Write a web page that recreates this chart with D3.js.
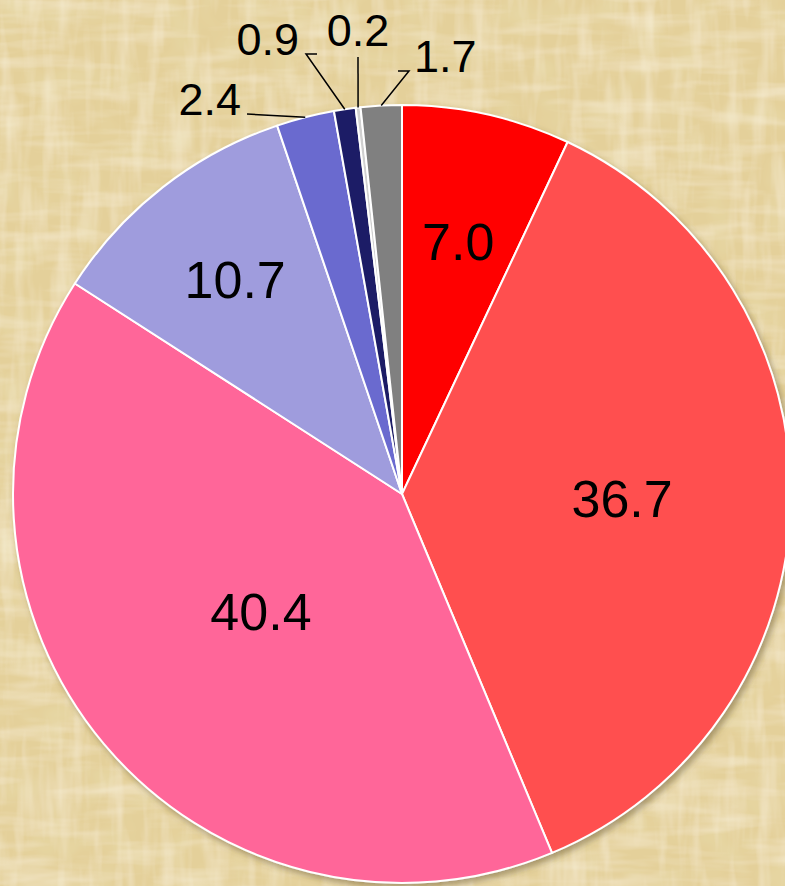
<!DOCTYPE html>
<html>
<head>
<meta charset="utf-8">
<script src="https://cdn.jsdelivr.net/npm/d3@7"></script>
<style>
  html, body { margin: 0; padding: 0; background: #E4D09A; }
  svg { display: block; }
  text { font-family: "Liberation Sans", Arial, sans-serif; fill: #000; }
</style>
</head>
<body>
<svg id="chart" width="785" height="886"></svg>
<script>
// ---- data ----
const categories = ["A", "B", "C", "D", "E", "F", "G", "H"];
const values = [7.0, 36.7, 40.4, 10.7, 2.4, 0.9, 0.2, 1.7];
const labels = ["7.0", "36.7", "40.4", "10.7", "2.4", "0.9", "0.2", "1.7"];
const colors = ["#FF0000", "#FF5050", "#FF6699", "#9F9CDD", "#6B6BCF", "#1F1F66", "#D0D0D0", "#808080"];

// ---- layout ----
const W = 785, H = 886;
const cx = 402, cy = 494, R = 389;
// inside label radius (fraction of R) for large slices
const insideR = [0.663, 0.566, 0.473, 0.697, null, null, null, null];
// outside labels: text anchor, text position, elbow point
const outside = {
  4: { anchor: "end",   tx: 241, ty: 115, elbow: [247, 114] },
  5: { anchor: "end",   tx: 299, ty: 55,  elbow: [306, 54], start: [317, 54] },
  6: { anchor: "middle",tx: 358, ty: 46,  elbow: [358, 57] },
  7: { anchor: "start", tx: 414, ty: 72,  elbow: [409, 71], start: [398, 71] }
};

const svg = d3.select("#chart");
const defs = svg.append("defs");

// parchment texture
const f = defs.append("filter").attr("id", "paper").attr("x", 0).attr("y", 0).attr("width", 1).attr("height", 1);
f.append("feTurbulence").attr("type", "fractalNoise").attr("baseFrequency", "0.07 0.012").attr("numOctaves", 3).attr("seed", 3).attr("result", "v");
f.append("feColorMatrix").attr("in", "v").attr("type", "matrix")
  .attr("values", "0 0 0 0 0.96  0 0 0 0 0.89  0 0 0 0 0.72  1.0 0 0 0 -0.45").attr("result", "vc");
f.append("feTurbulence").attr("type", "fractalNoise").attr("baseFrequency", "0.012 0.07").attr("numOctaves", 3).attr("seed", 8).attr("result", "h");
f.append("feColorMatrix").attr("in", "h").attr("type", "matrix")
  .attr("values", "0 0 0 0 0.96  0 0 0 0 0.89  0 0 0 0 0.72  1.0 0 0 0 -0.45").attr("result", "hc");
f.append("feTurbulence").attr("type", "fractalNoise").attr("baseFrequency", "0.03 0.03").attr("numOctaves", 2).attr("seed", 5).attr("result", "b");
f.append("feColorMatrix").attr("in", "b").attr("type", "matrix")
  .attr("values", "0 0 0 0 0.82  0 0 0 0 0.74  0 0 0 0 0.44  1.0 0 0 0 -0.45").attr("result", "bc");
f.append("feMerge").selectAll("feMergeNode").data(["SourceGraphic", "bc", "hc", "vc"]).join("feMergeNode").attr("in", d => d);

svg.append("rect").attr("width", W).attr("height", H).attr("fill", "#E4D09A").attr("filter", "url(#paper)");

// shadow
const sh = defs.append("filter").attr("id", "shadow").attr("x", "-10%").attr("y", "-10%").attr("width", "120%").attr("height", "120%");
sh.append("feDropShadow").attr("dx", 3).attr("dy", 4).attr("stdDeviation", 3).attr("flood-color", "#5a4a20").attr("flood-opacity", 0.45);

const pie = d3.pie().sort(null).value(d => d)(values);
const arc = d3.arc().innerRadius(0).outerRadius(R);

const g = svg.append("g").attr("transform", `translate(${cx},${cy})`);
g.append("g").attr("filter", "url(#shadow)")
  .selectAll("path").data(pie).join("path")
  .attr("d", arc)
  .attr("fill", (d, i) => colors[i])
  .attr("stroke", "#fff")
  .attr("stroke-width", 2)
  .attr("stroke-linejoin", "round");

// inside labels
pie.forEach((d, i) => {
  if (insideR[i] == null) return;
  const a = (d.startAngle + d.endAngle) / 2;
  const r = R * insideR[i];
  g.append("text")
    .attr("x", r * Math.sin(a))
    .attr("y", -r * Math.cos(a))
    .attr("text-anchor", "middle")
    .attr("dominant-baseline", "central")
    .attr("font-size", 52)
    .text(labels[i]);
});

// outside labels with leaders
pie.forEach((d, i) => {
  const o = outside[i];
  if (!o) return;
  const a = (d.startAngle + d.endAngle) / 2;
  const px = cx + R * Math.sin(a), py = cy - R * Math.cos(a);
  const pts = [[px, py], o.elbow];
  if (o.start) pts.push(o.start);
  svg.append("path")
    .attr("d", d3.line()(pts))
    .attr("fill", "none").attr("stroke", "#000").attr("stroke-width", 1.5);
  svg.append("text")
    .attr("x", o.tx).attr("y", o.ty)
    .attr("text-anchor", o.anchor)
    .attr("font-size", 45)
    .text(labels[i]);
});
</script>
</body>
</html>
